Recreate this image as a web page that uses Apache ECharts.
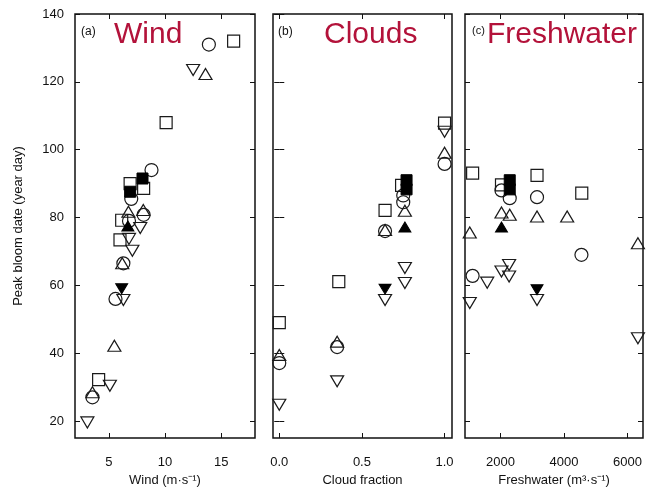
<!DOCTYPE html>
<html><head><meta charset="utf-8">
<script src="https://cdn.jsdelivr.net/npm/echarts@6/dist/echarts.min.js"></script>
<style>html,body{margin:0;padding:0;background:#fff}#c{width:647px;height:488px}</style>
</head><body><div id="c"></div>
<script>
// ---- data ----
const yTicks = [20, 40, 60, 80, 100, 120, 140];
const windTicks = [5, 10, 15];
const cloudTicks = [0, 0.5, 1.0];
const freshTicks = [2000, 4000, 6000];

// Panel (a) Wind
const windCircle = [[13.9,131],[8.8,94],[7.0,85.5],[6.8,79],[8.1,80.8],[6.3,66.5],[5.6,56],[3.55,27]];
const windSquare = [[16.1,132],[10.1,108],[6.9,90],[8.1,88.6],[6.15,79.2],[6.0,73.4],[4.1,32.2]];
const windUp = [[13.6,122.3],[6.75,81.7],[8.07,82.2],[6.2,66.5],[5.5,42.2],[3.55,28.5]];
const windDown = [[12.5,123.5],[7.8,76.9],[6.8,73.7],[7.1,70.2],[6.3,55.7],[5.1,30.4],[3.1,19.6]];
const windSquareF = [[8.0,91.5],[6.9,87.6]];
const windUpF = [[6.7,77.5]];
const windDownF = [[6.15,59]];

// Panel (b) Clouds
const cloudCircle = [[1.0,95.8],[0.75,86.5],[0.75,84.5],[0.64,76],[0.35,41.8],[0.0,37.1]];
const cloudSquare = [[1.0,107.8],[0.74,89.5],[0.64,82.1],[0.36,61.1],[0.0,49]];
const cloudUp = [[1.0,99.1],[0.76,82],[0.64,76.3],[0.35,43.4],[0.0,39.5]];
const cloudDown = [[1.0,105.3],[0.76,65.1],[0.76,60.7],[0.64,55.7],[0.35,31.7],[0.0,24.8]];
const cloudSquareF = [[0.77,91],[0.77,88.3]];
const cloudUpF = [[0.76,77.2]];
const cloudDownF = [[0.64,58.9]];

// Panel (c) Freshwater
const freshCircle = [[2290,85.7],[2030,88],[3150,86],[4550,69],[1120,62.8]];
const freshSquare = [[1120,93.1],[2030,89.6],[3150,92.4],[4560,87.2]];
const freshUp = [[2030,81.5],[2290,80.8],[3150,80.3],[4100,80.3],[1030,75.6],[6330,72.4]];
const freshDown = [[1580,60.8],[2030,64.1],[2270,66],[2270,62.6],[1030,54.8],[3150,55.7],[6330,44.4]];
const freshSquareF = [[2290,91],[2290,88.3]];
const freshUpF = [[2030,77.2]];
const freshDownF = [[3150,58.7]];

const panelTitles = ['Wind', 'Clouds', 'Freshwater'];
const panelLetters = ['(a)', '(b)', '(c)'];
const xNames = ['Wind (m·s⁻¹)', 'Cloud fraction', 'Freshwater (m³·s⁻¹)'];

// ---- chart ----
const FONT = 'Liberation Sans, Arial, Helvetica, sans-serif';
const RED = '#b3123a';
const grids = [
  {left: 75, top: 14, width: 180, height: 424},
  {left: 273, top: 14, width: 179, height: 424},
  {left: 465, top: 14, width: 178, height: 424}
].map(g => Object.assign(g, {show: true, borderColor: '#111', borderWidth: 1.5, backgroundColor: 'transparent',
  containLabel: false, outerBoundsMode: 'none'}));

const xRanges = [[2, 18], [-0.038, 1.045], [880, 6490]];
const xTickSets = [windTicks, cloudTicks, freshTicks];
const xFormat = [v => String(v), v => v.toFixed(1), v => String(v)];

const xAxes = [], yAxes = [];
for (let i = 0; i < 3; i++) {
  xAxes.push({
    type: 'value', gridIndex: i, position: 'bottom', min: xRanges[i][0], max: xRanges[i][1],
    axisLine: {show: false}, splitLine: {show: false},
    axisTick: {show: true, inside: true, length: 5, lineStyle: {color: '#111', width: 1}, customValues: xTickSets[i]},
    axisLabel: {show: true, customValues: xTickSets[i], formatter: xFormat[i], margin: 18, color: '#111', fontSize: 13, fontFamily: FONT},
    name: xNames[i], nameLocation: 'middle', nameGap: 34,
    nameTextStyle: {color: '#111', fontSize: 13, fontFamily: FONT}
  });
  xAxes.push({
    type: 'value', gridIndex: i, position: 'top', min: xRanges[i][0], max: xRanges[i][1],
    axisLine: {show: false}, splitLine: {show: false},
    axisTick: {show: true, inside: true, length: 5, lineStyle: {color: '#111', width: 1}, customValues: xTickSets[i]},
    axisLabel: {show: false}
  });
  yAxes.push({
    type: 'value', gridIndex: i, position: 'left', min: 15, max: 140,
    axisLine: {show: false}, splitLine: {show: false},
    axisTick: {show: true, inside: true, length: 5, lineStyle: {color: '#111', width: 1}, customValues: yTicks},
    axisLabel: {show: i === 0, customValues: yTicks, margin: 11, color: '#111', fontSize: 13, fontFamily: FONT},
    name: i === 0 ? 'Peak bloom date (year day)' : '', nameLocation: 'middle', nameGap: 50, nameRotate: 90,
    nameTextStyle: {color: '#111', fontSize: 13, fontFamily: FONT}
  });
  yAxes.push({
    type: 'value', gridIndex: i, position: 'right', min: 15, max: 140,
    axisLine: {show: false}, splitLine: {show: false},
    axisTick: {show: true, inside: true, length: 5, lineStyle: {color: '#111', width: 1}, customValues: yTicks},
    axisLabel: {show: false}
  });
}

const panelData = [
  [windCircle, windSquare, windUp, windDown, windSquareF, windUpF, windDownF],
  [cloudCircle, cloudSquare, cloudUp, cloudDown, cloudSquareF, cloudUpF, cloudDownF],
  [freshCircle, freshSquare, freshUp, freshDown, freshSquareF, freshUpF, freshDownF]
];
const markerTypes = [
  {symbol: 'circle', size: 13, rotate: 0, filled: false},
  {symbol: 'rect', size: 12, rotate: 0, filled: false},
  {symbol: 'triangle', size: [13, 11], rotate: 0, filled: false},
  {symbol: 'triangle', size: [13, 11], rotate: 180, filled: false},
  {symbol: 'rect', size: 11, rotate: 0, filled: true},
  {symbol: 'triangle', size: [12, 10], rotate: 0, filled: true},
  {symbol: 'triangle', size: [12, 10], rotate: 180, filled: true}
];

const series = [];
for (let p = 0; p < 3; p++) {
  markerTypes.forEach((m, k) => {
    series.push({
      type: 'scatter', xAxisIndex: p * 2, yAxisIndex: p * 2,
      data: panelData[p][k], symbol: m.symbol, symbolSize: m.size, symbolRotate: m.rotate,
      itemStyle: m.filled ? {color: '#000', borderColor: '#000', borderWidth: 1, opacity: 1}
                          : {color: 'rgba(0,0,0,0)', borderColor: '#1a1a1a', borderWidth: 1.2, opacity: 1},
      emphasis: {disabled: true}, silent: true, clip: false, z: m.filled ? 3 : 2
    });
  });
}

const titleLeft = [114, 324, 487];
const letterLeft = [81, 278, 472];
const titles = [];
for (let i = 0; i < 3; i++) {
  titles.push({text: panelTitles[i], left: titleLeft[i], top: 20, padding: 0,
    textStyle: {color: RED, fontSize: 30, fontWeight: 'normal', fontFamily: FONT}});
  titles.push({text: panelLetters[i], left: letterLeft[i], top: i === 2 ? 25 : 26, padding: 0,
    textStyle: {color: '#111', fontSize: i === 2 ? 11 : 12, fontWeight: 'normal', fontFamily: FONT}});
}

const chart = echarts.init(document.getElementById('c'), null, {renderer: 'canvas'});
chart.setOption({
  backgroundColor: '#fff',
  animation: false,
  title: titles,
  grid: grids,
  xAxis: xAxes,
  yAxis: yAxes,
  series: series
});
</script>
</body></html>
